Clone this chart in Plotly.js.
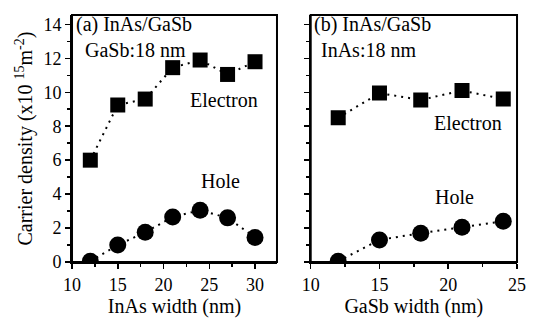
<!DOCTYPE html>
<html>
<head>
<meta charset="utf-8">
<script src="https://cdn.plot.ly/plotly-3.0.1.min.js"></script>
<style>html,body{margin:0;padding:0;background:#fff;}#chart{width:537px;height:320px;}</style>
</head>
<body>
<div id="chart"></div>
<script>
// Panel (a): varying InAs width, GaSb 18 nm
const inasWidth = [12, 15, 18, 21, 24, 27, 30];
const electronA = [6.0, 9.25, 9.6, 11.45, 11.9, 11.05, 11.8];
const holeA = [0.05, 1.0, 1.75, 2.65, 3.05, 2.6, 1.45];

// Panel (b): varying GaSb width, InAs 18 nm
const gasbWidth = [12, 15, 18, 21, 24];
const electronB = [8.5, 9.95, 9.55, 10.1, 9.6];
const holeB = [0.05, 1.3, 1.7, 2.05, 2.4];

const FONT = "'Liberation Serif', 'Times New Roman', serif";
const lineStyle = {color: '#000', width: 2, dash: '2px,5px'};

function trace(x, y, sym, size, xa, ya) {
  return {
    x: x, y: y, xaxis: xa, yaxis: ya,
    type: 'scatter', mode: 'lines+markers',
    line: lineStyle,
    marker: {symbol: sym, size: size, color: '#000'},
    showlegend: false
  };
}

const data = [
  trace(inasWidth, electronA, 'square', 15, 'x', 'y'),
  trace(inasWidth, holeA, 'circle', 17, 'x', 'y'),
  trace(gasbWidth, electronB, 'square', 15, 'x2', 'y2'),
  trace(gasbWidth, holeB, 'circle', 17, 'x2', 'y2')
];

const axisCommon = {
  showgrid: false, zeroline: false,
  showline: true, linecolor: '#000', linewidth: 2, mirror: false,
  ticks: 'outside', ticklen: 5, tickwidth: 1.5, tickcolor: '#000',
  tickfont: {family: FONT, size: 18, color: '#000'}
};

function ann(text, xref, yref, x, y) {
  return {text: text, xref: xref, yref: yref, x: x, y: y,
    xanchor: 'left', yanchor: 'middle', showarrow: false,
    font: {family: FONT, size: 20, color: '#000'}};
}

function frame(xr, yr) {
  return {type: 'rect', xref: xr, yref: yr, x0: 0, x1: 1, y0: 0, y1: 1,
    line: {color: '#000', width: 2}, fillcolor: 'rgba(0,0,0,0)', layer: 'above'};
}

const layout = {
  width: 537, height: 320,
  margin: {l: 0, r: 0, t: 0, b: 0},
  paper_bgcolor: '#fff', plot_bgcolor: '#fff',
  font: {family: FONT, color: '#000'},
  xaxis: Object.assign({}, axisCommon, {
    domain: [0.1341, 0.5158], range: [10, 32.4], dtick: 5, tick0: 10,
    minor: {ticks: 'outside', ticklen: 3, dtick: 2.5, tick0: 10, tickcolor: '#000', tickwidth: 1.5},
    title: {text: 'InAs width (nm)', font: {family: FONT, size: 20, color: '#000'}, standoff: 2},
    anchor: 'y'
  }),
  yaxis: Object.assign({}, axisCommon, {
    domain: [0.18125, 0.953], range: [0, 14.55], dtick: 2, tick0: 0,
    minor: {ticks: 'outside', ticklen: 3, dtick: 1, tick0: 0, tickcolor: '#000', tickwidth: 1.5},
    title: {text: 'Carrier density (x10 <sup>15</sup>m<sup>-2</sup>)', font: {family: FONT, size: 20, color: '#000'}, standoff: 5},
    anchor: 'x'
  }),
  xaxis2: Object.assign({}, axisCommon, {
    domain: [0.5786, 0.9628], range: [10, 25], dtick: 5, tick0: 10,
    minor: {ticks: 'outside', ticklen: 3, dtick: 2.5, tick0: 10, tickcolor: '#000', tickwidth: 1.5},
    title: {text: 'GaSb width (nm)', font: {family: FONT, size: 20, color: '#000'}, standoff: 2},
    anchor: 'y2'
  }),
  yaxis2: Object.assign({}, axisCommon, {
    domain: [0.18125, 0.953], range: [0, 14.55], dtick: 2, tick0: 0,
    showticklabels: false,
    minor: {ticks: 'outside', ticklen: 3, dtick: 1, tick0: 0, tickcolor: '#000', tickwidth: 1.5},
    anchor: 'x2'
  }),
  shapes: [frame('x domain', 'y domain'), frame('x2 domain', 'y2 domain')],
  annotations: [
    ann('(a) InAs/GaSb', 'x domain', 'y domain', 0.012, 0.96),
    ann('GaSb:18 nm', 'x domain', 'y domain', 0.054, 0.858),
    ann('Electron', 'x domain', 'y domain', 0.566, 0.656),
    ann('Hole', 'x domain', 'y domain', 0.62, 0.329),
    ann('(b) InAs/GaSb', 'x2 domain', 'y2 domain', 0.008, 0.96),
    ann('InAs:18 nm', 'x2 domain', 'y2 domain', 0.04, 0.858),
    ann('Electron', 'x2 domain', 'y2 domain', 0.586, 0.563),
    ann('Hole', 'x2 domain', 'y2 domain', 0.591, 0.263)
  ]
};

Plotly.newPlot('chart', data, layout, {staticPlot: true, displayModeBar: false});
</script>
</body>
</html>
